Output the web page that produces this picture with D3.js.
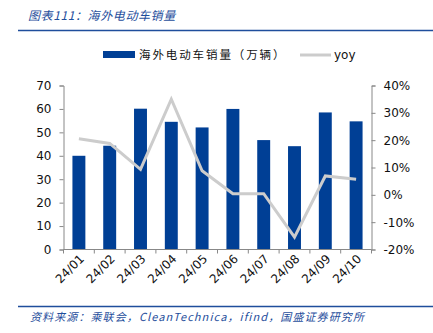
<!DOCTYPE html>
<html><head><meta charset="utf-8">
<script src="https://cdn.jsdelivr.net/npm/d3@7"></script>
<style>body{margin:0;background:#fff}svg{display:block}</style>
</head><body>
<script>
const categories = ["24/01","24/02","24/03","24/04","24/05","24/06","24/07","24/08","24/09","24/10"];
const sales = [40, 44.3, 60.1, 54.5, 52.1, 60, 46.7, 44.1, 58.5, 54.7];
const yoy = [20.5, 18.8, 9.3, 35, 8.8, 0.4, 0.4, -15.5, 6.9, 5.7];
const leftTicks = [0,10,20,30,40,50,60,70];
const rightTicks = [-20,-10,0,10,20,30,40];

const W=433,H=333;
const svg=d3.select("body").append("svg").attr("width",W).attr("height",H);
const blue="#003f95", gray="#cccccc", navy="#1f4e9c";
const font="DejaVu Sans, Verdana, sans-serif";
const cjk="'Noto Sans CJK SC', sans-serif";

// title
svg.append("text").attr("x",28).attr("y",20).attr("font-family",cjk).attr("font-style","italic")
  .attr("font-size",12).attr("letter-spacing",0.6).attr("fill",navy).text("图表111：海外电动车销量");
svg.append("line").attr("x1",18).attr("x2",433).attr("y1",30.5).attr("y2",30.5).attr("stroke",navy).attr("stroke-width",1.5);

const L=63.5,R=371.5,T=85.5,B=249.5;
const x=d3.scaleBand().domain(categories).range([L,R]).paddingInner(0.58).paddingOuter(0.29);
const y=d3.scaleLinear().domain([0,70]).range([B,T]);
const y2=d3.scaleLinear().domain([-20,40]).range([B,T]);

// bars
svg.append("g").selectAll("rect").data(sales).join("rect")
  .attr("x",(d,i)=>x(categories[i])).attr("width",x.bandwidth())
  .attr("y",d=>y(d)).attr("height",d=>B-y(d)).attr("fill",blue);

// line
const xc=d=>x(d)+x.bandwidth()/2;
svg.append("path").datum(yoy).attr("fill","none").attr("stroke",gray).attr("stroke-width",3)
  .attr("d",d3.line().x((d,i)=>xc(categories[i])).y(d=>y2(d)));

// axes
const la=svg.append("g").attr("transform",`translate(${L},0)`).call(d3.axisLeft(y).tickValues(leftTicks).tickSize(4).tickPadding(8));
const ra=svg.append("g").attr("transform",`translate(${R},0)`).call(d3.axisRight(y2).tickValues(rightTicks).tickSize(4).tickPadding(8).tickFormat(d=>d+"%"));
const xb=d3.scaleLinear().domain([0,10]).range([L,R]);
const ba=svg.append("g").attr("transform",`translate(0,${B})`);
ba.append("line").attr("x1",L).attr("x2",R).attr("stroke","#888");
ba.selectAll("line.t").data(d3.range(11)).join("line").attr("class","t")
  .attr("x1",d=>xb(d)).attr("x2",d=>xb(d)).attr("y1",0).attr("y2",4).attr("stroke","#888");
ba.selectAll("text").data(categories).join("text")
  .attr("transform",d=>`translate(${xc(d)+6},${10}) rotate(-45)`)
  .attr("text-anchor","end").attr("font-family",font).attr("font-size",12).attr("fill","#111").text(d=>d);

[la,ra].forEach(a=>{a.select(".domain").attr("stroke","#888");a.selectAll(".tick line").attr("stroke","#888");
  a.selectAll("text").attr("font-family",font).attr("font-size",12).attr("fill","#111");});

// legend
svg.append("rect").attr("x",103).attr("y",51).attr("width",32).attr("height",7).attr("fill",blue);
svg.append("text").attr("x",139).attr("y",59).attr("font-family",cjk).attr("font-size",11.5).attr("letter-spacing",1.9).attr("fill","#111").text("海外电动车销量（万辆）");
svg.append("line").attr("x1",300).attr("x2",331).attr("y1",55).attr("y2",55).attr("stroke",gray).attr("stroke-width",3);
svg.append("text").attr("x",334).attr("y",59).attr("font-family",font).attr("font-size",12).attr("fill","#111").text("yoy");

// footer
svg.append("line").attr("x1",18).attr("x2",433).attr("y1",306.5).attr("y2",306.5).attr("stroke",navy).attr("stroke-width",1.5);
svg.append("text").attr("x",30).attr("y",321).attr("font-family",cjk).attr("font-style","italic")
  .attr("font-size",11).attr("letter-spacing",1.1).attr("fill",navy).text("资料来源：乘联会，CleanTechnica，ifind，国盛证券研究所");
</script>
</body></html>
